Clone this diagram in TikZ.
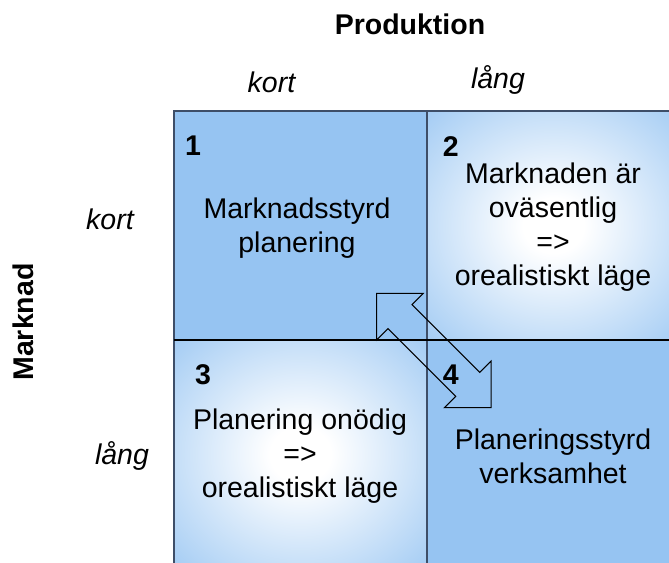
\documentclass[tikz,border=0pt]{standalone}
\usepackage{fontspec}
\setmainfont{Liberation Sans}
\usetikzlibrary{positioning,calc}
\definecolor{qblue}{RGB}{150,196,242}
\definecolor{slate}{RGB}{62,78,104}
\pgfdeclareradialshading{qglow}{\pgfpoint{0bp}{0bp}}{rgb(0bp)=(1,1,1); rgb(6bp)=(1,1,1); rgb(40bp)=(0.588,0.769,0.949); rgb(50bp)=(0.588,0.769,0.949)}
\newcommand{\bigtxt}{\fontsize{28.5}{34}\selectfont}
\tikzset{
  quad/.style ={draw=slate, fill=qblue, line width=1.4pt, minimum width=253pt,
                minimum height=229pt, inner sep=0pt, outer sep=0pt},
  glow/.style ={quad, shade, shading=qglow},
  qtxt/.style ={font=\bigtxt, align=center},
  qnum/.style ={font=\bigtxt\bfseries},
  axlbl/.style={font=\bigtxt\itshape},
  axttl/.style={font=\bigtxt\bfseries},
  dbl/.style  ={draw=black, line width=1pt, line join=miter},
}
\begin{document}
\begin{tikzpicture}[x=1pt,y=1pt,node distance=0pt]
\useasboundingbox (0,0) rectangle (669,-562);
\clip (0,0) rectangle (669,-562);

\node[quad] (q1) at (300.5,-225.5) {};
\node[glow,right=of q1] (q2) {};
\node[glow,below=of q1] (q3) {};
\node[quad,right=of q3] (q4) {};
\draw[black,line width=1.4pt] (q3.north west) -- (q4.north east);

\begin{scope}[shift={(433.85,-350.5)},rotate=-45]
\draw[dbl] (-80.85,0) -- (-47.95,33) -- (-47.95,17) -- (47.95,17) -- (47.95,33) -- (80.85,0)
  -- (47.95,-33) -- (47.95,-17) -- (-47.95,-17) -- (-47.95,-33) -- cycle;
\end{scope}

\node[qnum] (n1) at ($(q1.north west)+(19,-35)$) {1};
\node[qnum] (n2) at ($(q2.north west)+(23.7,-35.7)$) {2};
\node[qnum] (n3) at ($(q3.north west)+(29,-35)$) {3};
\node[qnum] (n4) at ($(q4.north west)+(23.7,-35)$) {4};

\node[qtxt] (t1) at ($(q1)+(-3.5,-2.5)$) {Marknadsstyrd\\planering};
\node[qtxt] (t2) at ($(q2)+(-0.5,-1.5)$) {Marknaden är\\oväsentlig\\=>\\orealistiskt läge};
\node[qtxt] (t3) at ($(q3)+(-0.5,-1.5)$) {Planering onödig\\=>\\orealistiskt läge};
\node[qtxt] (t4) at ($(q4)+(-0.5,-1.5)$) {Planeringsstyrd\\verksamhet};

\node[axttl] (prod) at (410,-24) {Produktion};
\node[axlbl] (pkort) at (271.5,-82) {kort};
\node[axlbl] (plang) at (498,-80) {lång};
\node[axttl,rotate=90] (mark) at (23,-322) {Marknad};
\node[axlbl] (mkort) at (110,-219) {kort};
\node[axlbl] (mlang) at (122,-456) {lång};
\end{tikzpicture}
\end{document}
